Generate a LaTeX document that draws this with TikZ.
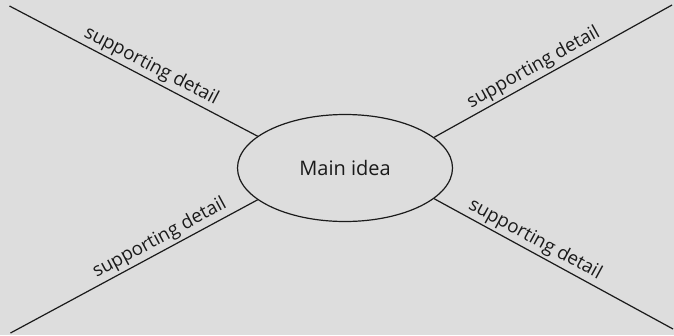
\documentclass[tikz,border=0pt]{standalone}
\usepackage{fontspec}
\setmainfont{Open Sans}
\usetikzlibrary{shapes.geometric}
\definecolor{bg}{HTML}{DDDDDD}
\definecolor{ink}{HTML}{1A1A1A}
\tikzset{
  spoke/.style={draw=ink, line width=1.2pt},
  lbl/.style={sloped, above, inner sep=2.5pt, font=\fontsize{18.7}{21}\selectfont, text=ink},
  mainbox/.style={ellipse, draw=ink, line width=1.2pt, minimum width=215pt, minimum height=107pt, inner sep=0pt, font=\fontsize{20}{23}\selectfont, text=ink}
}
\begin{document}
\begin{tikzpicture}[x=1pt, y=-1pt]
\fill[bg] (0,0) rectangle (674,335);
\useasboundingbox (0,0) rectangle (674,335);
\node[mainbox] (e) at (345,168) {Main idea};
\coordinate (tl) at (9.5,6);
\coordinate (tr) at (672,5);
\coordinate (bl) at (10.5,333);
\coordinate (br) at (673,329);
\draw[spoke] (tl) -- node[lbl, pos=0.548] (l1) {supporting detail} (e.160.6);
\draw[spoke] (e.19.2) -- node[lbl, pos=0.444] (l2) {supporting detail} (tr);
\draw[spoke] (bl) -- node[lbl, pos=0.628] (l3) {supporting detail} (e.200.4);
\draw[spoke] (e.-19.8) -- node[lbl, pos=0.398] (l4) {supporting detail} (br);
\end{tikzpicture}
\end{document}
